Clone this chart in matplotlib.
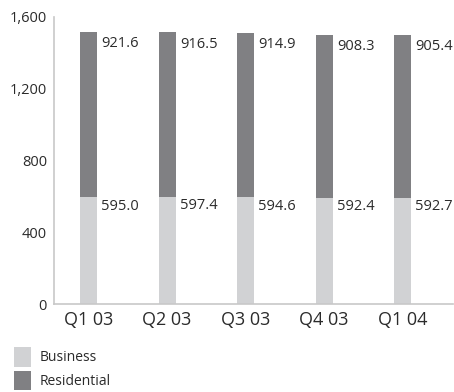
import numpy as np
import matplotlib
matplotlib.use("Agg")
import matplotlib.pyplot as plt

# quarterly lines, thousands
quarters = ["Q1 03", "Q2 03", "Q3 03", "Q4 03", "Q1 04"]
business = [595.0, 597.4, 594.6, 592.4, 592.7]
residential = [921.6, 916.5, 914.9, 908.3, 905.4]
yticks = [0, 400, 800, 1200, 1600]

c_bus = "#d1d2d4"
c_res = "#808083"
c_axis = "#c8c8c8"
c_text = "#2b2b2b"

plt.rcParams["font.family"] = ["Open Sans", "DejaVu Sans"]

fig = plt.figure(figsize=(4.54, 3.92), dpi=100)
ax = fig.add_axes([54 / 454, 88 / 392, 399 / 454, 287 / 392])

x = np.arange(len(quarters))
w = 0.217
bus = np.array(business)
res = np.array(residential)
ax.bar(x, bus, width=w, color=c_bus, label="Business")
ax.bar(x, res, width=w, bottom=bus, color=c_res, label="Residential")

# value labels just right of each segment top
for i in range(len(x)):
    ax.annotate(f"{bus[i]:.1f}", (x[i] + w / 2, bus[i]), xytext=(3, -1),
                textcoords="offset points", ha="left", va="top",
                fontsize=10.5, color=c_text)
    ax.annotate(f"{res[i]:.1f}", (x[i] + w / 2, bus[i] + res[i]), xytext=(3, -3),
                textcoords="offset points", ha="left", va="top",
                fontsize=10.5, color=c_text)

ax.set_xlim(-0.44, 4.64)
ax.set_ylim(0, 1600)
ax.set_xticks(x)
ax.set_xticklabels(quarters, fontsize=13, color=c_text)
ax.set_yticks(yticks)
ax.set_yticklabels([f"{v:,}" for v in yticks], fontsize=10.5, color=c_text)
ax.tick_params(length=0)
ax.tick_params(axis="y", pad=5)
ax.tick_params(axis="x", pad=5)
for s in ["top", "right"]:
    ax.spines[s].set_visible(False)
for s in ["left", "bottom"]:
    ax.spines[s].set_color(c_axis)
    ax.spines[s].set_linewidth(1.2)

fig.legend(loc="upper left", bbox_to_anchor=(14 / 454, 1 - 347 / 392),
           frameon=False, fontsize=10, handlelength=1.22, handleheight=1.8,
           handletextpad=0.65, labelspacing=0.3, borderpad=0, borderaxespad=0,
           labelcolor=c_text)

fig.savefig("out.png", dpi=100)
